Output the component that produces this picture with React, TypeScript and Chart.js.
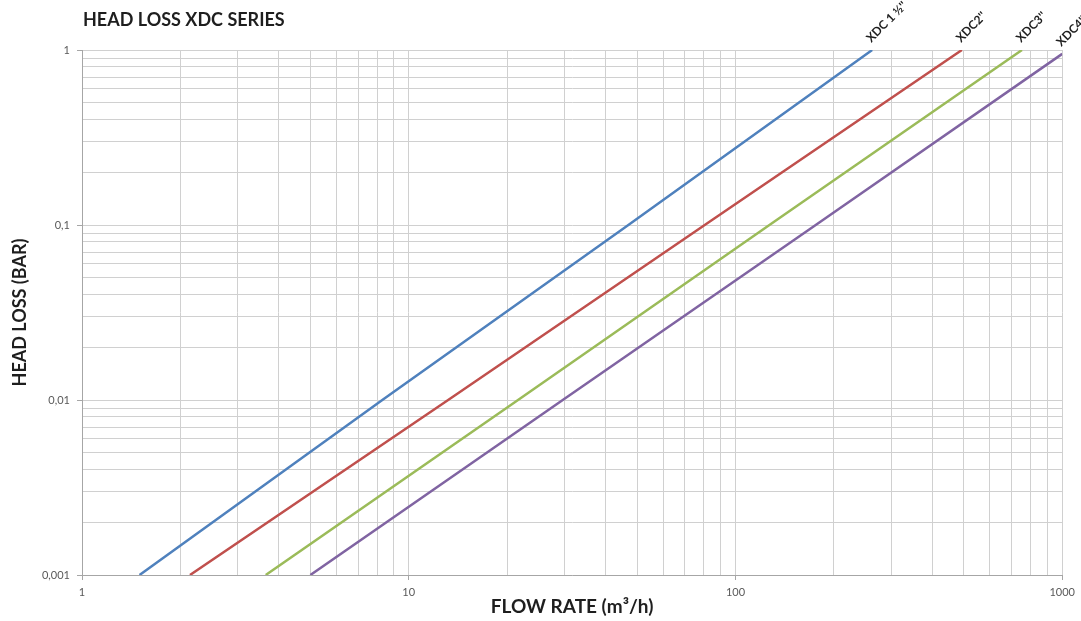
import React, { useEffect, useRef } from "react";
import { Chart, registerables } from "chart.js";

Chart.register(...registerables);

// ---- data ----
const seriesNames = ["XDC 1 ½''", "XDC2''", "XDC3''", "XDC4''"];
const seriesColors = ["#4F81BD", "#C0504D", "#9BBB59", "#8064A2"];

const blueFlow = [1.5, 8.3, 47, 262];
const blueLoss = [0.001, 0.01, 0.1, 1];
const redFlow = [2.14, 13.2, 80.5, 493];
const redLoss = [0.001, 0.01, 0.1, 1];
const greenFlow = [3.65, 21.6, 127, 753];
const greenLoss = [0.001, 0.01, 0.1, 1];
const purpleFlow = [5.0, 29.6, 176, 1000];
const purpleLoss = [0.001, 0.01, 0.1, 0.95];

const xMajor = [1, 10, 100, 1000];
const xTickLabels = ["1", "10", "100", "1000"];
const yMajor = [0.001, 0.01, 0.1, 1];
const yTickLabels = ["0,001", "0,01", "0,1", "1"];
const minorMultipliers = [1, 2, 3, 4, 5, 6, 7, 8, 9];

const chartTitle = "HEAD LOSS XDC SERIES";
const xTitle = "FLOW RATE (m³/h)";
const yTitle = "HEAD LOSS (BAR)";

const FONT = "Lato, 'Open Sans', sans-serif";

function toPoints(xs: number[], ys: number[]) {
  return xs.map((x, i) => ({ x, y: ys[i] }));
}

function majorIndex(v: number, majors: number[]) {
  return majors.findIndex((m) => Math.abs(Math.log10(v) - Math.log10(m)) < 1e-6);
}

function buildTicks(majors: number[]) {
  const out: { value: number; major?: boolean }[] = [];
  for (let d = 0; d < majors.length - 1; d++) {
    for (const m of minorMultipliers) {
      out.push({ value: majors[d] * m });
    }
  }
  out.push({ value: majors[majors.length - 1] });
  return out;
}

const labelPlugin = {
  id: "customText",
  afterDraw(chart: any) {
    const ctx = chart.ctx;
    const area = chart.chartArea;
    ctx.save();
    ctx.fillStyle = "#1e1e1e";
    // title
    ctx.font = `bold 18px ${FONT}`;
    ctx.textAlign = "left";
    ctx.textBaseline = "alphabetic";
    ctx.fillText(chartTitle, 83, 26);
    // x title
    ctx.font = `bold 19px ${FONT}`;
    ctx.textAlign = "center";
    ctx.fillText(xTitle, (area.left + area.right) / 2, 613);
    // y title
    ctx.save();
    ctx.translate(26, (area.top + area.bottom) / 2);
    ctx.rotate(-Math.PI / 2);
    ctx.font = `bold 18px ${FONT}`;
    ctx.textAlign = "center";
    ctx.fillText(yTitle, 0, 0);
    ctx.restore();
    // series labels
    ctx.font = `bold 12px ${FONT}`;
    ctx.textAlign = "left";
    chart.data.datasets.forEach((ds: any, i: number) => {
      const meta = chart.getDatasetMeta(i);
      const last = meta.data[meta.data.length - 1];
      if (!last) return;
      ctx.save();
      ctx.translate(last.x - 1, last.y - 7);
      ctx.rotate(-Math.PI / 4);
      ctx.fillText(seriesNames[i], 0, 0);
      ctx.restore();
    });
    ctx.restore();
  },
};

export default function App() {
  const ref = useRef<HTMLCanvasElement | null>(null);

  useEffect(() => {
    if (!ref.current) return;
    const datasets = [
      toPoints(blueFlow, blueLoss),
      toPoints(redFlow, redLoss),
      toPoints(greenFlow, greenLoss),
      toPoints(purpleFlow, purpleLoss),
    ].map((data, i) => ({
      label: seriesNames[i],
      data,
      borderColor: seriesColors[i],
      backgroundColor: seriesColors[i],
      borderWidth: 2.5,
      pointRadius: 0,
      tension: 0,
      fill: false,
    }));

    const chart = new Chart(ref.current, {
      type: "line",
      data: { datasets },
      plugins: [labelPlugin],
      options: {
        animation: false,
        responsive: false,
        devicePixelRatio: 1,
        layout: { padding: { top: 50, right: 18, left: 0, bottom: 0 } },
        plugins: { legend: { display: false }, tooltip: { enabled: false } },
        scales: {
          x: {
            type: "logarithmic",
            min: 1,
            max: 1000,
            afterBuildTicks: (scale: any) => {
              scale.ticks = buildTicks(xMajor);
            },
            afterFit: (scale: any) => {
              scale.height = 46;
            },
            grid: {
              color: "#d0d0d0",
              lineWidth: 1,
              tickLength: 5,
              tickColor: (c: any) =>
                c.tick && majorIndex(c.tick.value, xMajor) >= 0 ? "#a6a6a6" : "rgba(0,0,0,0)",
            },
            border: { color: "#a6a6a6", width: 1 },
            ticks: {
              autoSkip: false,
              maxRotation: 0,
              padding: 6,
              color: "#595959",
              font: { family: FONT, size: 11 },
              callback: (v: any) => {
                const i = majorIndex(Number(v), xMajor);
                return i >= 0 ? xTickLabels[i] : "";
              },
            },
          },
          y: {
            type: "logarithmic",
            min: 0.001,
            max: 1,
            afterBuildTicks: (scale: any) => {
              scale.ticks = buildTicks(yMajor);
            },
            afterFit: (scale: any) => {
              scale.width = 82;
            },
            grid: {
              color: "#d0d0d0",
              lineWidth: 1,
              tickLength: 5,
              tickColor: (c: any) =>
                c.tick && majorIndex(c.tick.value, yMajor) >= 0 ? "#a6a6a6" : "rgba(0,0,0,0)",
            },
            border: { color: "#a6a6a6", width: 1 },
            ticks: {
              autoSkip: false,
              padding: 7,
              color: "#595959",
              font: { family: FONT, size: 11 },
              callback: (v: any) => {
                const i = majorIndex(Number(v), yMajor);
                return i >= 0 ? yTickLabels[i] : "";
              },
            },
          },
        },
      } as any,
    });
    return () => chart.destroy();
  }, []);

  return (
    <div style={{ position: "fixed", left: 0, top: 0, width: 1081, height: 621, background: "#fff" }}>
      <canvas ref={ref} width={1081} height={621} style={{ display: "block" }} />
    </div>
  );
}
